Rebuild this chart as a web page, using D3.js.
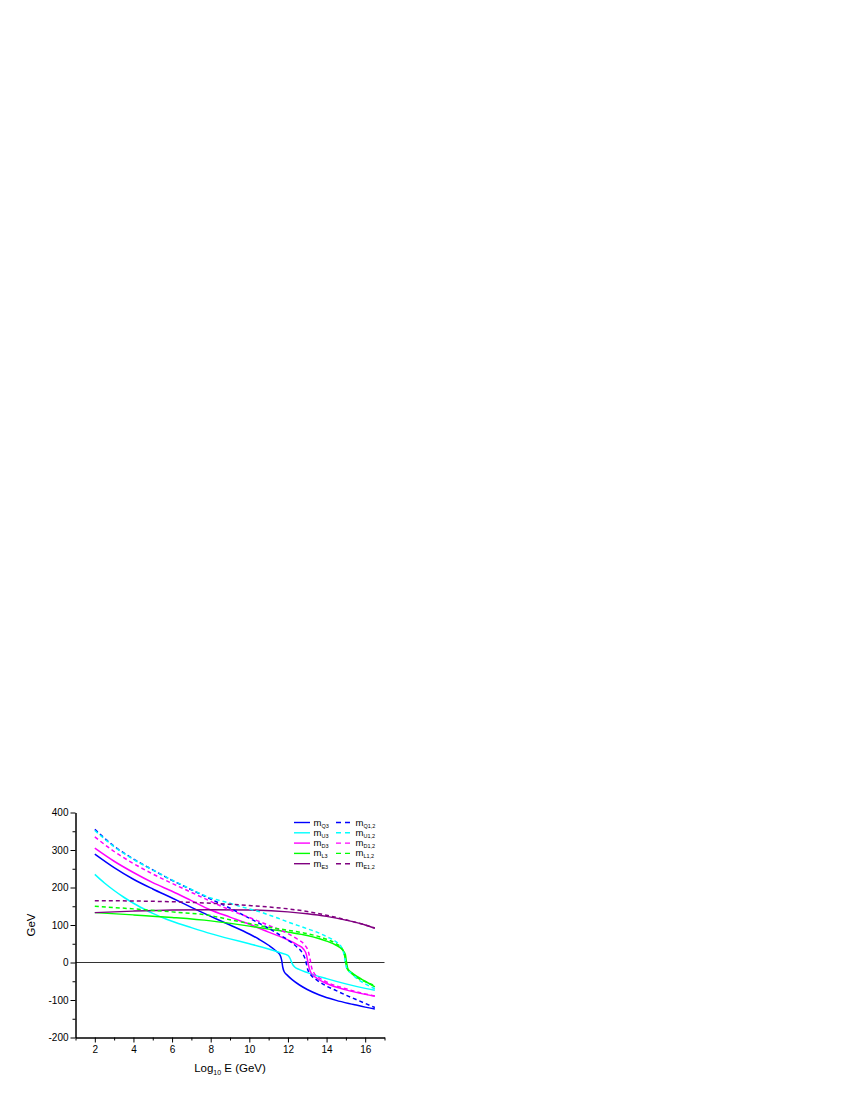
<!DOCTYPE html>
<html><head><meta charset="utf-8">
<script src="https://cdn.jsdelivr.net/npm/d3@7"></script>
<style>body{margin:0;background:#fff}</style>
</head><body><svg id="c" width="850" height="1100"></svg>
<script>
const xTicks = [2,4,6,8,10,12,14,16];
const xMinor = [1,3,5,7,9,11,13,15,17];
const yTicks = [-200,-100,0,100,200,300,400];
const yMinor = [-150,-50,50,150,250,350];

const mQ3  = [[2,289],[3,253],[4,222],[5,196],[6,172],[7,147],[8,123],[9,100],[10,76],[10.5,62],[11,46],[11.4,30],[11.6,19],[11.68,5],[11.73,-12],[11.8,-24],[11.95,-33],[12.2,-45],[12.6,-60],[13,-72],[13.6,-86],[14.5,-101],[15.4,-112],[16,-119],[16.5,-124]];
const mU3  = [[2,235],[2.5,212],[3,192],[3.5,174],[4,158],[4.5,144],[5,131],[5.5,120],[6,110],[7,93],[8,77],[9,63],[10,50],[11,36],[11.6,26],[12,19],[12.12,10],[12.22,-3],[12.35,-12],[12.6,-19],[13,-27],[14,-43],[15,-57],[16,-69],[16.5,-74]];
const mD3  = [[2,305],[3,270],[4,240],[5,213],[6,190],[7,165],[8,140],[9,121],[10,102],[11,81],[12,60],[12.5,47],[12.8,36],[12.95,22],[13.02,5],[13.1,-15],[13.2,-28],[13.5,-42],[14,-56],[15,-73],[16,-85],[16.5,-90]];
const mL3  = [[2,133],[4,127],[6,120],[8,111],[10,97],[11,89],[12,81],[13,72],[14,57],[14.5,46],[14.8,35],[14.97,22],[15.03,2],[15.1,-16],[15.3,-27],[15.6,-38],[16,-50],[16.5,-65]];
const mE3  = [[2,133],[4,137],[6,140],[8,141],[10,140],[12,135],[13,130],[14,123],[15,113],[16,100],[16.5,91]];
const mQ12 = [[2,355],[3,310],[4,276],[5,247],[6,219],[7,194],[8,169],[9,145],[9.7,126],[10.2,113],[11,91],[11.5,76],[12,60],[12.45,42],[12.75,25],[12.92,5],[13.02,-18],[13.2,-34],[13.5,-47],[14,-63],[14.5,-75],[15,-87],[15.5,-98],[16,-109],[16.5,-120]];
const mU12 = [[2,352],[3,309],[4,275],[5,247],[6,220],[7,195],[8,172],[8.5,165],[9,158],[9.5,150],[10,143],[10.5,136],[11,127],[11.5,118],[12,108],[12.5,99],[13,90],[13.5,81],[14,69],[14.5,55],[14.78,40],[14.92,18],[15,-8],[15.08,-18],[15.3,-30],[15.6,-44],[16,-57],[16.5,-70]];
const mD12 = [[2,335],[3,296],[4,264],[5,236],[6,211],[7,187],[8,163],[9,140],[10,120],[11,99],[12,77],[12.5,62],[12.85,48],[13.05,30],[13.15,8],[13.22,-12],[13.35,-28],[13.6,-40],[14,-52],[15,-70],[16,-84],[16.5,-89]];
const mL12 = [[2,150],[4,143],[6,135],[8,125],[9,114],[10,104],[11,94],[12,86],[13,77],[14,62],[14.5,50],[14.8,37],[14.93,20],[14.99,0],[15.06,-16],[15.3,-29],[15.6,-41],[16,-51],[16.5,-62]];
const mE12 = [[2,165],[4,164],[6,162],[8,158],[10,152],[12,143],[13,136],[14,126],[15,114],[16,100],[16.5,92]];

const seriesNames = ["Q3","U3","D3","L3","E3","Q1,2","U1,2","D1,2","L1,2","E1,2"];
const seriesData  = [mQ3,mU3,mD3,mL3,mE3,mQ12,mU12,mD12,mL12,mE12];
const colors = ["#0000ff","#00ffff","#ff00ff","#00ff00","#800080"];

const svg = d3.select("#c");
const x = d3.scaleLinear().domain([1,17]).range([75.5,384.5]);
const y = d3.scaleLinear().domain([-200,400]).range([1037.5,812.5]);
const font = "Liberation Sans, Arial, sans-serif";

// zero line
svg.append("line").attr("x1",x(1)).attr("x2",x(17)).attr("y1",y(0)).attr("y2",y(0))
  .attr("stroke","#333").attr("stroke-width",1);

// series
const line = d3.line().x(d=>x(d[0])).y(d=>y(d[1])).curve(d3.curveMonotoneX);
seriesData.forEach((data,i)=>{
  svg.append("path").datum(data).attr("d",line).attr("fill","none")
    .attr("stroke",colors[i%5]).attr("stroke-width",1.5)
    .attr("stroke-dasharray", i>=5 ? "4,3" : null);
});

// axes
function styleAxis(g){
  g.selectAll("path,line").attr("stroke","#000").attr("stroke-width",1);
  g.selectAll("text").attr("font-family",font).attr("font-size",10).attr("fill","#000");
}
const fmt = d => String(d);
svg.append("g").attr("transform",`translate(0,${y(-200)})`)
  .call(d3.axisBottom(x).tickValues(xTicks).tickSize(5).tickPadding(3).tickSizeOuter(0).tickFormat(fmt))
  .call(styleAxis);
svg.append("g").attr("transform",`translate(0,${y(-200)})`)
  .call(d3.axisBottom(x).tickValues(xMinor).tickSize(3).tickFormat("").tickSizeOuter(0))
  .call(styleAxis);
svg.append("g").attr("transform",`translate(${x(1)},0)`)
  .call(d3.axisLeft(y).tickValues(yTicks).tickSize(5).tickPadding(2).tickSizeOuter(0).tickFormat(fmt))
  .call(styleAxis);
svg.append("g").attr("transform",`translate(${x(1)},0)`)
  .call(d3.axisLeft(y).tickValues(yMinor).tickSize(3).tickFormat("").tickSizeOuter(0))
  .call(styleAxis);

// axis titles
const xt = svg.append("text").attr("x",230).attr("y",1072).attr("text-anchor","middle")
  .attr("font-family",font).attr("font-size",11.5);
xt.append("tspan").text("Log");
xt.append("tspan").text("10").attr("font-size",7).attr("dy",3);
xt.append("tspan").text(" E (GeV)").attr("dy",-3);
svg.append("text").attr("transform","translate(35,925) rotate(-90)").attr("text-anchor","middle")
  .attr("font-family",font).attr("font-size",11.5).text("GeV");

// legend
seriesNames.forEach((nm,i)=>{
  const col = Math.floor(i/5), row = i%5;
  const lx = col===0 ? 294 : 336, ly = 822.5 + row*10.3;
  svg.append("line").attr("x1",lx).attr("x2",lx+16).attr("y1",ly).attr("y2",ly)
    .attr("stroke",colors[i%5]).attr("stroke-width",1.4)
    .attr("stroke-dasharray", col===1 ? "5,4" : null);
  const t = svg.append("text").attr("x",lx+19.5).attr("y",ly+3)
    .attr("font-family",font).attr("font-size",9.5);
  t.append("tspan").text("m");
  t.append("tspan").text(nm).attr("font-size",5.5).attr("dy",2);
});
</script></body></html>
